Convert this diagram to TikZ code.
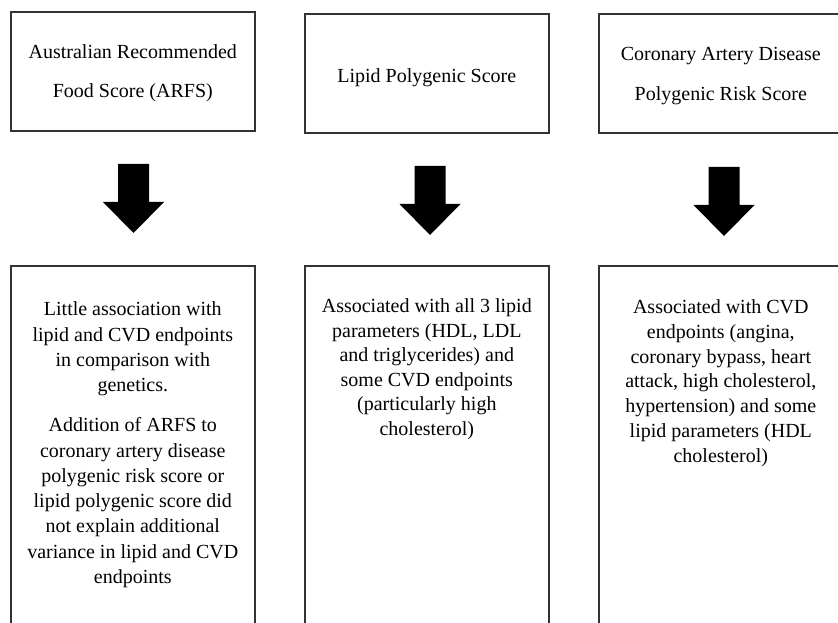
\documentclass[tikz,border=0pt]{standalone}
\usepackage{fontspec}
\setmainfont{Liberation Serif}
\newcommand{\celltext}[4]{\parbox[t][#1][t]{244bp}{\fontsize{20bp}{#2}\selectfont\centering\rule{0pt}{#3}#4}}
\tikzset{
  cell/.style={draw=black!80, line width=1.6bp, inner sep=0pt, anchor=north west},
  blockarrow/.pic={\fill[black] (-15.5,0) -- (15.5,0) -- (15.5,38) -- (30.5,38) -- (0,69) -- (-30.5,38) -- (-15.5,38) -- cycle;}
}
\begin{document}
\begin{tikzpicture}[x=1bp,y=-1bp]
\useasboundingbox (0,0) rectangle (838,623);
\clip (0,0) rectangle (838,623);
% top boxes
\node[cell] (arfs) at (10,11) {\celltext{119bp}{39bp}{47bp}{Australian Recommended\\Food Score (ARFS)}};
\node[cell] (lps) at (304,13) {\celltext{119bp}{39bp}{69bp}{Lipid Polygenic Score}};
\node[cell] (cad) at (598,13) {\celltext{119bp}{40bp}{47bp}{Coronary Artery Disease\\Polygenic Risk Score}};
% arrows
\pic at (133.5,164) {blockarrow};
\pic at (430,166) {blockarrow};
\pic at (724,167) {blockarrow};
% bottom boxes
\node[cell] (res1) at (10,265) {\celltext{400bp}{25.3bp}{50bp}{Little association with\\lipid and CVD endpoints\\in comparison with\\genetics.\par\vspace{14.7bp}Addition of ARFS to\\coronary artery disease\\polygenic risk score or\\lipid polygenic score did\\not explain additional\\variance in lipid and CVD\\endpoints}};
\node[cell] (res2) at (304,265) {\celltext{400bp}{24.5bp}{47bp}{Associated with all 3 lipid\\parameters (HDL, LDL\\and triglycerides) and\\some CVD endpoints\\(particularly high\\cholesterol)}};
\node[cell] (res3) at (598,265) {\celltext{400bp}{24.7bp}{48bp}{Associated with CVD\\endpoints (angina,\\coronary bypass, heart\\attack, high cholesterol,\\hypertension) and some\\lipid parameters (HDL\\cholesterol)}};
\end{tikzpicture}
\end{document}
